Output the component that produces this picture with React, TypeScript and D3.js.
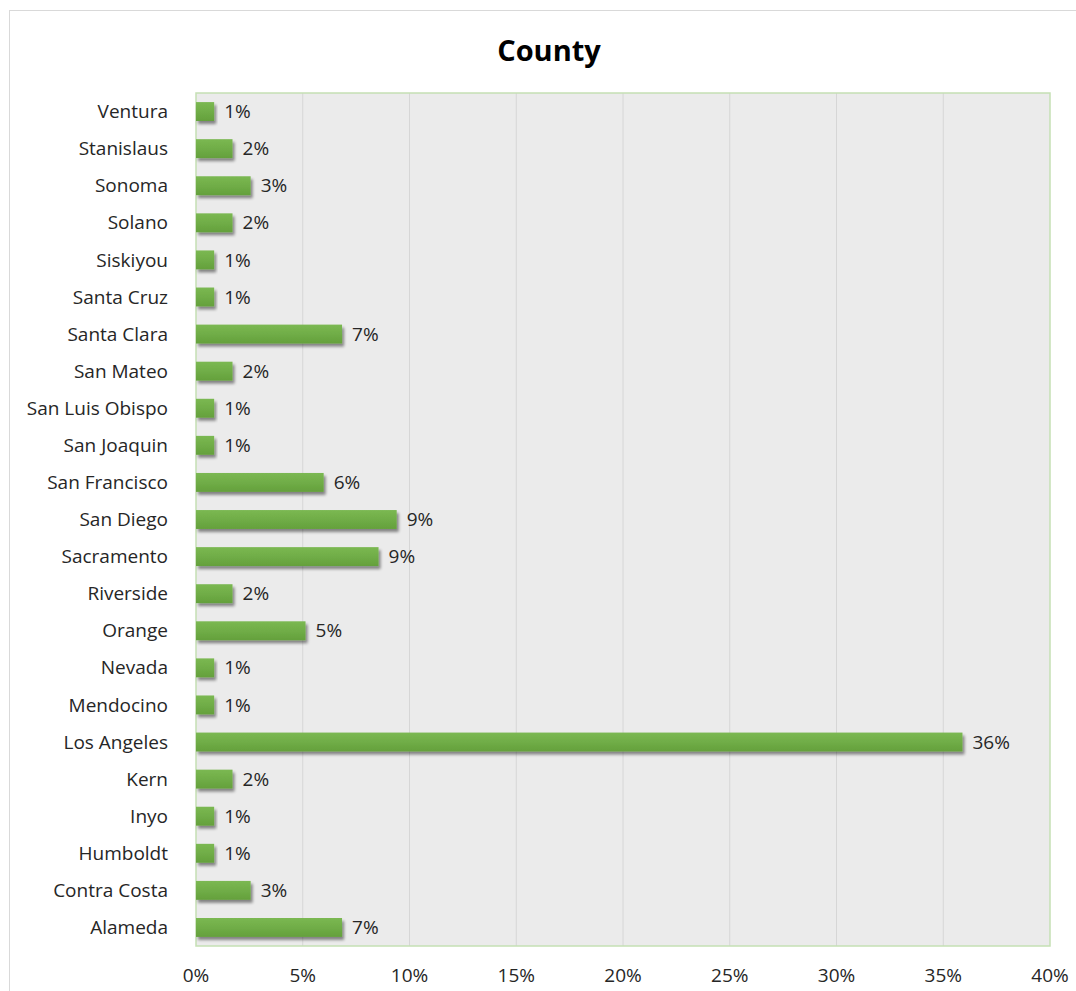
import React from "react";
import * as d3 from "d3";

const categories = [
  "Ventura", "Stanislaus", "Sonoma", "Solano", "Siskiyou", "Santa Cruz", "Santa Clara",
  "San Mateo", "San Luis Obispo", "San Joaquin", "San Francisco", "San Diego", "Sacramento",
  "Riverside", "Orange", "Nevada", "Mendocino", "Los Angeles", "Kern", "Inyo", "Humboldt",
  "Contra Costa", "Alameda",
];
const values = [
  0.85, 1.71, 2.56, 1.71, 0.85, 0.85, 6.84,
  1.71, 0.85, 0.85, 5.98, 9.4, 8.55,
  1.71, 5.13, 0.85, 0.85, 35.9, 1.71, 0.85, 0.85,
  2.56, 6.84,
];
const xTicks = [0, 5, 10, 15, 20, 25, 30, 35, 40];

const W = 1076, H = 991;
const plot = { left: 196, right: 1050, top: 93, bottom: 946 };
const FONT = "'Open Sans', 'Noto Sans', sans-serif";
const FS = 19;

export default function App() {
  const x = d3.scaleLinear().domain([0, 40]).range([plot.left, plot.right]);
  const y = d3.scaleBand<string>().domain(categories).range([plot.top, plot.bottom]).paddingInner(0.49).paddingOuter(0.245);
  const bh = y.bandwidth();
  return (
    <svg width={W} height={H} style={{ position: "absolute", left: 0, top: 0 }}>
      <defs>
        <linearGradient id="barg" x1="0" y1="0" x2="0" y2="1">
          <stop offset="0" stopColor="#7bb852" />
          <stop offset="0.5" stopColor="#70ad47" />
          <stop offset="1" stopColor="#64a03c" />
        </linearGradient>
        <filter id="sh" x="-10%" y="-30%" width="130%" height="190%">
          <feGaussianBlur in="SourceAlpha" stdDeviation="1.6" />
          <feOffset dx="1.5" dy="2.5" result="ob" />
          <feComponentTransfer>
            <feFuncA type="linear" slope="0.45" />
          </feComponentTransfer>
          <feMerge>
            <feMergeNode />
            <feMergeNode in="SourceGraphic" />
          </feMerge>
        </filter>
      </defs>
      <rect x={0} y={0} width={W} height={H} fill="#fff" />
      <rect x={9.5} y={10.5} width={W + 20} height={H + 20} fill="#fff" stroke="#d9d9d9" strokeWidth={1} />
      <text x={549} y={61} textAnchor="middle" fontFamily={FONT} fontWeight="bold" fontSize={29} fill="#000">County</text>
      <rect x={plot.left} y={plot.top} width={plot.right - plot.left} height={plot.bottom - plot.top} fill="#ebebeb" />
      {xTicks.slice(1, -1).map((t) => (
        <line key={t} x1={x(t)} x2={x(t)} y1={plot.top} y2={plot.bottom} stroke="#d6d6d6" strokeWidth={1} />
      ))}
      <rect x={plot.left} y={plot.top} width={plot.right - plot.left} height={plot.bottom - plot.top} fill="none" stroke="#c5e0b4" strokeWidth={1.5} />
      {categories.map((c, i) => (
        <g key={c}>
          <rect x={x(0)} y={y(c)!} width={x(values[i]) - x(0)} height={bh} fill="url(#barg)" filter="url(#sh)" />
          <text x={x(values[i]) + 10} y={y(c)! + bh / 2} dy="0.35em" fontFamily={FONT} fontSize={FS} fill="#262626">
            {Math.round(values[i])}%
          </text>
          <text x={168} y={y(c)! + bh / 2} dy="0.35em" textAnchor="end" fontFamily={FONT} fontSize={FS} fill="#262626">
            {c}
          </text>
        </g>
      ))}
      {xTicks.map((t) => (
        <text key={t} x={x(t)} y={975} textAnchor="middle" dy="0.35em" fontFamily={FONT} fontSize={FS} fill="#262626">
          {t}%
        </text>
      ))}
    </svg>
  );
}
